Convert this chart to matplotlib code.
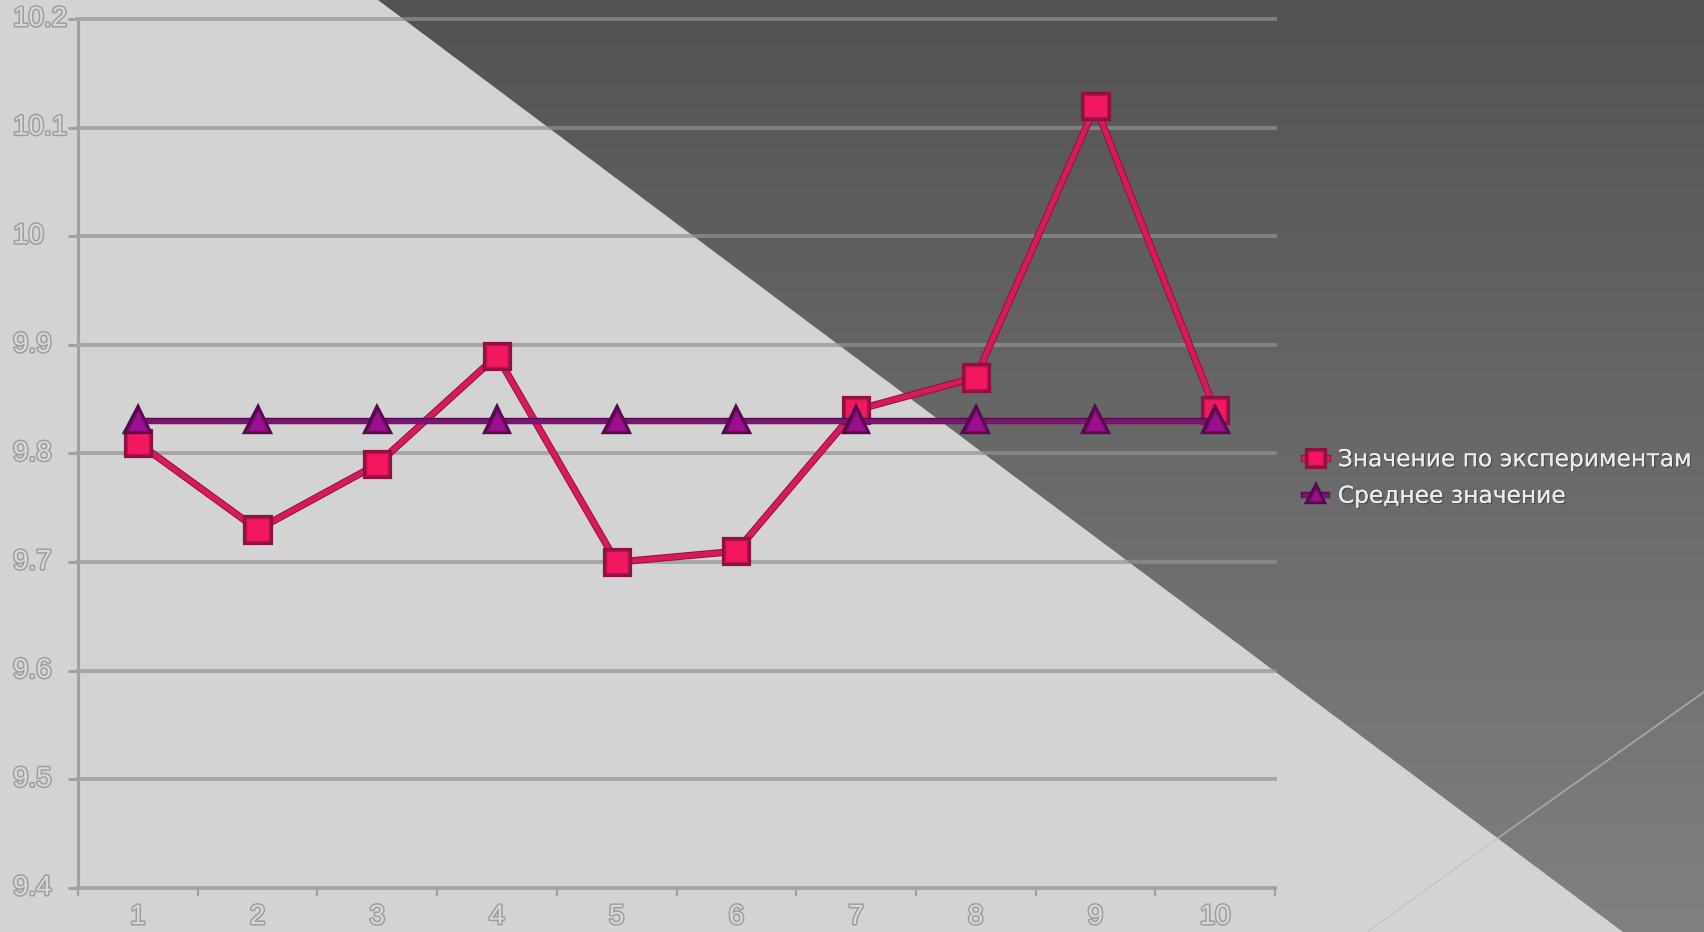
import numpy as np
import matplotlib
matplotlib.use("Agg")
import matplotlib.pyplot as plt
import matplotlib.patheffects as pe
from matplotlib import font_manager as fm
from matplotlib.patches import Polygon
from matplotlib.transforms import blended_transform_factory

# chart data
categories = [1, 2, 3, 4, 5, 6, 7, 8, 9, 10]
experiment_values = [9.81, 9.73, 9.79, 9.89, 9.70, 9.71, 9.84, 9.87, 10.12, 9.84]
mean_values = [9.83, 9.83, 9.83, 9.83, 9.83, 9.83, 9.83, 9.83, 9.83, 9.83]
y_ticks = [9.4, 9.5, 9.6, 9.7, 9.8, 9.9, 10.0, 10.1, 10.2]
y_tick_labels = ["9.4", "9.5", "9.6", "9.7", "9.8", "9.9", "10", "10.1", "10.2"]
series_names = ["Значение по экспериментам", "Среднее значение"]

W, H = 1704, 932


def pick_font(families):
    for fam in families:
        try:
            fm.findfont(fam, fallback_to_default=False)
            return fam
        except ValueError:
            pass
    return "DejaVu Sans"


narrow = pick_font(["Liberation Sans Narrow", "DejaVu Sans Condensed", "Liberation Sans"])

fig = plt.figure(figsize=(W / 100, H / 100), dpi=100)
fig.patch.set_facecolor("#d3d3d3")

# background: light slide with a dark gradient triangle at upper right
bg = fig.add_axes([0, 0, 1, 1], zorder=-1)
bg.set_xlim(0, W)
bg.set_ylim(H, 0)
bg.axis("off")
grad = np.linspace(0.0, 1.0, 256).reshape(-1, 1)
img = bg.imshow(grad, extent=(0, W, H, 0), cmap=matplotlib.colors.LinearSegmentedColormap.from_list(
    "dk", ["#535353", "#808080"]), aspect="auto", interpolation="bilinear")
tri = Polygon([(378, 0), (W, 0), (W, H), (1623, H)], closed=True, transform=bg.transData,
              facecolor="none", edgecolor="none")
bg.add_patch(tri)
img.set_clip_path(tri)
bg.plot([1498, W], [838, 692], color="#a4a4a4", lw=1.3)
bg.plot([1367, 1498], [932, 838], color="#c4c4c4", lw=1.0)

# main axes
ax = fig.add_axes([78 / W, 1 - 888 / H, (1275 - 78) / W, (888 - 19) / H])
ax.set_facecolor("none")
ax.set_xlim(0.5, 10.5)
ax.set_ylim(9.4, 10.2)

grid_col = "#929292"
for yv in y_ticks:
    ax.axhline(yv, color=grid_col, alpha=0.7, lw=2.8, zorder=1, clip_on=False)

for s in ["top", "right", "bottom"]:
    ax.spines[s].set_visible(False)
ax.spines["left"].set_color("#a2a2a2")
ax.spines["left"].set_linewidth(2.2)

ax.set_yticks(y_ticks)
ax.set_yticklabels([])
ax.tick_params(axis="y", length=7, width=2.2, color="#a2a2a2", direction="out")
ax.set_xticks([c + 0.5 for c in [0] + categories])
ax.set_xticklabels([])
ax.tick_params(axis="x", length=6, width=1.6, color="#a2a2a2", direction="out")

label_fx = [pe.withStroke(linewidth=2.2, foreground="#9e9e9e")]
ytr = blended_transform_factory(fig.transFigure, ax.transData)
for yv, lab in zip(y_ticks, y_tick_labels):
    ax.text(13 / W, yv, lab, transform=ytr, ha="left", va="center", fontsize=20,
            family=narrow, color="#d8d8d8", path_effects=label_fx)
xtr = blended_transform_factory(ax.transData, fig.transFigure)
for c in categories:
    ax.text(c, 1 - 917 / H, str(c), transform=xtr, ha="center", va="center", fontsize=20,
            family=narrow, color="#d8d8d8", path_effects=label_fx)

# series
ax.plot(categories, experiment_values, color="#d81a5c", lw=3.8, marker="s", markersize=16,
        markerfacecolor="#f2175f", markeredgecolor="#b8144f", markeredgewidth=1.0, zorder=3,
        label=series_names[0],
        path_effects=[pe.Stroke(linewidth=5.2, foreground="#8e1044"), pe.Normal()])
ax.plot(categories, mean_values, color="#7c1472", lw=3.4, marker="^", markersize=15,
        markerfacecolor="#9c0f8f", markeredgecolor="#740d68", markeredgewidth=1.0, zorder=4,
        label=series_names[1],
        path_effects=[pe.Stroke(linewidth=4.6, foreground="#560a4e"), pe.Normal()])

leg = ax.legend(loc="center left", bbox_to_anchor=(1304 / W, 1 - 478 / H),
                bbox_transform=fig.transFigure, frameon=False, fontsize=16.8,
                handlelength=1.0, handletextpad=0.45, labelspacing=0.58,
                markerscale=0.65, borderaxespad=0, borderpad=0)
for t in leg.get_texts():
    t.set_color("#ececec")
    t.set_path_effects([pe.withSimplePatchShadow(offset=(1, -1), shadow_rgbFace="#3a3a3a", alpha=0.6),
                        pe.Normal()])

fig.savefig("out.png", dpi=100)
